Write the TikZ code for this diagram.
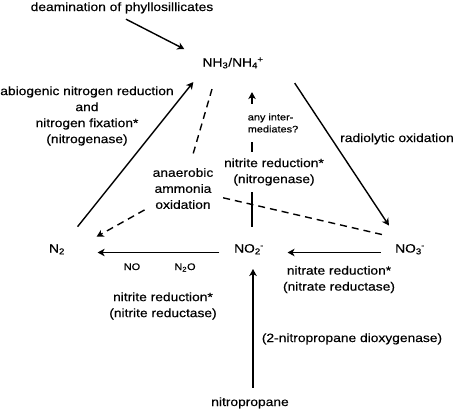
\documentclass[tikz,border=0pt]{standalone}
\usepackage{fontspec}
\setmainfont[FakeStretch=1.15,FakeBold=0.4]{Liberation Sans}
\usetikzlibrary{arrows.meta}
\newcommand{\chemion}[2]{\textsubscript{#1}\kern-0.05em\textsuperscript{#2}}

\begin{document}
\begin{tikzpicture}[
  x=1bp,y=-1bp,
  lbl/.style={font=\fontsize{12bp}{16bp}\selectfont,inner sep=1bp,align=center},
  chem/.style={font=\fontsize{12bp}{16bp}\selectfont,inner sep=1bp},
  tiny/.style={font=\fontsize{9.5bp}{12bp}\selectfont,inner sep=1bp},
  cover/.style={fill=white},
  arr/.style={draw=black,line width=1.4bp,-{Stealth[length=7bp,width=7.5bp,inset=2bp]}},
  dashline/.style={draw=black,line width=1.4bp,dash pattern=on 7bp off 5bp}
]
  \useasboundingbox (0,0) rectangle (454,410);

  \node[chem,anchor=base] (nh3) at (233,66.5) {NH\textsubscript{3}/NH\chemion{4}{+}};
  \node[chem,anchor=base] (n2) at (57,252.5) {N\textsubscript{2}};
  \node[chem,anchor=base] (no2) at (249,252.5) {NO\chemion{2}{-}};
  \node[chem,anchor=base] (no3) at (410,252.5) {NO\chemion{3}{-}};

  \node[lbl,anchor=base] (deam) at (122,11) {deamination of phyllosillicates};
  \node[lbl,anchor=base] (nitro) at (250,406) {nitropropane};
  \node[lbl] (abio) at (87,116) {abiogenic nitrogen reduction\\and\\nitrogen fixation*\\(nitrogenase)};
  \node[lbl,anchor=base] (radio) at (397,142) {radiolytic oxidation};
  \node[lbl] (anammox) at (183,188.5) {anaerobic\\ammonia\\oxidation};
  \node[lbl] (nar) at (339,279.5) {nitrate reduction*\\(nitrate reductase)};
  \node[lbl] (nir) at (163,306) {nitrite reduction*\\(nitrite reductase)};
  \node[lbl,anchor=base] (npd) at (352,342) {(2-nitropropane dioxygenase)};
  \node[tiny,anchor=base] (no) at (132,270) {NO};
  \node[tiny,anchor=base] (n2o) at (185,270) {N\textsubscript{2}O};

  \draw[arr] ([shift={(4,4.5)}]deam.south) -- ([shift={(-17,-7)}]nh3.north west);
  \draw[arr] ([shift={(11.5,-16.4)}]n2.north east) -- ([shift={(-8,12.5)}]nh3.south west);
  \draw[arr] ([shift={(30,13.5)}]nh3.south east) -- ([shift={(-5,-17.4)}]no3.north west);
  \draw[arr,shorten <=13bp,shorten >=22.5bp] (no3.base west) -- (no2.base east);
  \draw[arr,shorten <=13.5bp,shorten >=31.5bp] (no2.base west) -- (n2.base east);
  \draw[arr] ([shift={(3,-8.4)}]nitro.north) -- ([shift={(4,13.5)}]no2.south);
  \draw[arr] ([shift={(3,-16.4)}]no2.north) -- ([shift={(19,22.5)}]nh3.south);

  \draw[dashline,shorten >=9.5bp] ([shift={(-21,19.5)}]nh3.south) -- (anammox);
  \draw[dashline,-{Stealth[length=7bp,width=7.5bp,inset=2bp]},shorten <=8bp]
    (anammox) -- ([shift={(30.5,-6.4)}]n2.north east);
  \draw[dashline,shorten >=8bp] ([shift={(-12,-8.4)}]no3.north west) -- (anammox);

  \node[lbl,cover,inner ysep=6bp] (nirnase) at (274,172) {nitrite reduction*\\(nitrogenase)};
  \node[tiny,cover,align=left,inner ysep=10bp] (inter) at (273,123) {any inter-\\mediates?};
\end{tikzpicture}
\end{document}
